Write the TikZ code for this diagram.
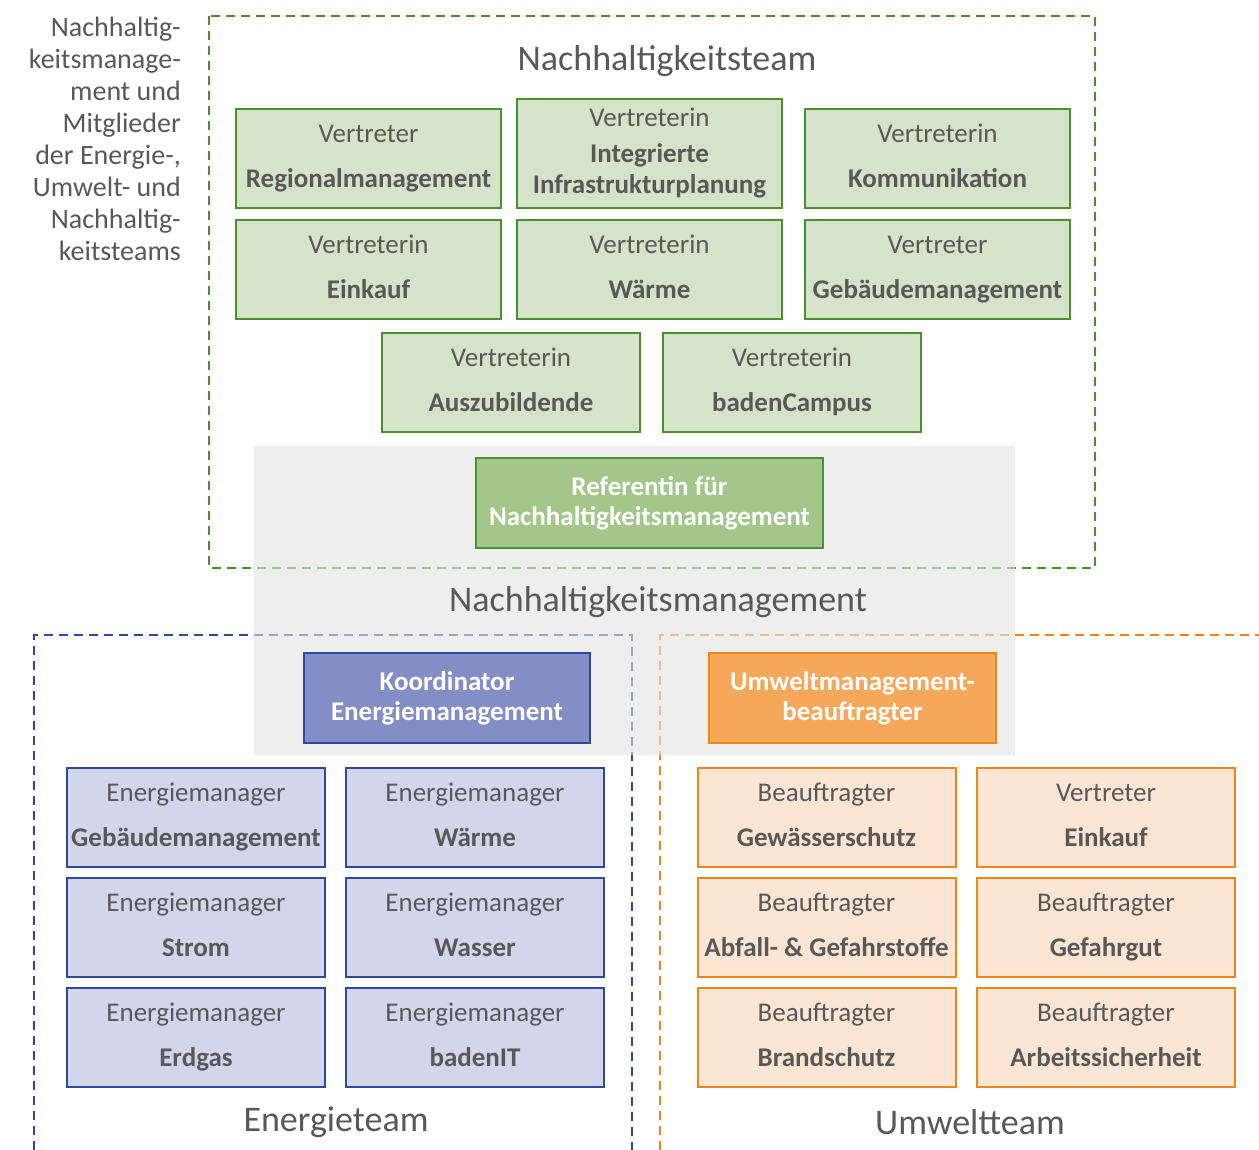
\documentclass[tikz,border=0pt]{standalone}
\usepackage{fontspec}
\setmainfont{Carlito}
\usepackage{xcolor}
\definecolor{txtgray}{RGB}{88,88,88}
\definecolor{nhgreen}{RGB}{74,143,48}
\definecolor{nhgreenlight}{RGB}{213,227,200}
\definecolor{nhgreenmid}{RGB}{163,198,138}
\definecolor{enblue}{RGB}{44,74,155}
\definecolor{enbluelight}{RGB}{211,214,235}
\definecolor{enbluemid}{RGB}{131,141,198}
\definecolor{uworange}{RGB}{239,132,25}
\definecolor{uworangelight}{RGB}{252,229,211}
\definecolor{uworangemid}{RGB}{245,167,90}
\definecolor{mgmtgray}{RGB}{227,227,227}
\tikzset{
    %Box styles
    box/.style={draw, line width=2pt, align=center, inner sep=0pt, text=txtgray,
        minimum height=99pt, font=\fontsize{27}{31}\selectfont},
    greenbox/.style={box, draw=nhgreen, fill=nhgreenlight, minimum width=265pt},
    bluebox/.style={box, draw=enblue, fill=enbluelight, minimum width=258pt},
    orangebox/.style={box, draw=uworange, fill=uworangelight, minimum width=258pt},
    headbox/.style={box, text=white, minimum height=90pt, font=\fontsize{27}{30}\selectfont\bfseries},
    frame/.style={line width=2.6pt, dash pattern=on 9pt off 6pt},
    title/.style={text=txtgray, font=\fontsize{36}{40}\selectfont}
}
% role on the first line, unit in bold below
\def\roleText#1#2{#1\strut\\[14pt]\textbf{#2}\strut}
\begin{document}
\begin{tikzpicture}[x=1pt, y=-1pt]
    \useasboundingbox (0,0) rectangle (1259,1150);

    % dashed team frames
    \draw[frame, nhgreen] (209,16) rectangle (1095,568);
    \draw[frame, enblue] (34,1150) -- (34,635) -- (632,635) -- (632,1150);
    \draw[frame, uworange] (660,1150) -- (660,635) -- (1262,635);

    % management area
    \fill[mgmtgray, opacity=0.6] (254,446) rectangle (1015,755);

    \node[text=txtgray, align=right, anchor=north east, inner sep=0pt,
        font=\fontsize{28}{32}\selectfont] (side) at (181,17)
        {Nachhaltig-\\keitsmanage-\\ment und\\Mitglieder\\der Energie-,\\Umwelt- und\\Nachhaltig-\\keitsteams};

    \node[title] (nhteam) at (667,61) {Nachhaltigkeitsteam};

    \node[greenbox] (region) at (368.5,158.5) {\roleText{Vertreter}{Regionalmanagement}};
    \node[greenbox, minimum height=109pt] (infra) at (649.5,153.5)
        {Vertreterin\strut\\[5pt]\textbf{Integrierte}\strut\\\textbf{Infrastrukturplanung}\strut};
    \node[greenbox] (komm) at (937.5,158.5) {\roleText{Vertreterin}{Kommunikation}};
    \node[greenbox] (einkauf) at (368.5,269.5) {\roleText{Vertreterin}{Einkauf}};
    \node[greenbox] (waerme) at (649.5,269.5) {\roleText{Vertreterin}{Wärme}};
    \node[greenbox] (gebaeude) at (937.5,269.5) {\roleText{Vertreter}{Gebäudemanagement}};
    \node[greenbox, minimum width=258pt] (azubi) at (511,382.5) {\roleText{Vertreterin}{Auszubildende}};
    \node[greenbox, minimum width=258pt] (campus) at (792,382.5) {\roleText{Vertreterin}{badenCampus}};

    \node[headbox, draw=nhgreen, fill=nhgreenmid, minimum width=347pt] (referentin) at (649.5,503)
        {Referentin für\\Nachhaltigkeitsmanagement};
    \node[title] (nhmgmt) at (658,602) {Nachhaltigkeitsmanagement};
    \node[headbox, draw=enblue, fill=enbluemid, minimum width=286pt] (koord) at (447,698)
        {Koordinator\\Energiemanagement};
    \node[headbox, draw=uworange, fill=uworangemid, minimum width=287pt] (umwelt) at (852.5,698)
        {Umweltmanagement-\\beauftragter};

    % Energieteam
    \node[bluebox] (egeb) at (196,817.5) {\roleText{Energiemanager}{Gebäudemanagement}};
    \node[bluebox] (ewae) at (475,817.5) {\roleText{Energiemanager}{Wärme}};
    \node[bluebox] (estr) at (196,927.5) {\roleText{Energiemanager}{Strom}};
    \node[bluebox] (ewas) at (475,927.5) {\roleText{Energiemanager}{Wasser}};
    \node[bluebox] (egas) at (196,1037.5) {\roleText{Energiemanager}{Erdgas}};
    \node[bluebox] (eit) at (475,1037.5) {\roleText{Energiemanager}{badenIT}};
    \node[title] (eteam) at (336,1122) {Energieteam};

    % Umweltteam
    \node[orangebox] (ugew) at (826.5,817.5) {\roleText{Beauftragter}{Gewässerschutz}};
    \node[orangebox] (uein) at (1106,817.5) {\roleText{Vertreter}{Einkauf}};
    \node[orangebox] (uabf) at (826.5,927.5) {\roleText{Beauftragter}{Abfall- \& Gefahrstoffe}};
    \node[orangebox] (ugut) at (1106,927.5) {\roleText{Beauftragter}{Gefahrgut}};
    \node[orangebox] (ubra) at (826.5,1037.5) {\roleText{Beauftragter}{Brandschutz}};
    \node[orangebox] (uarb) at (1106,1037.5) {\roleText{Beauftragter}{Arbeitssicherheit}};
    \node[title] (uteam) at (970,1122) {Umweltteam};
\end{tikzpicture}
\end{document}
